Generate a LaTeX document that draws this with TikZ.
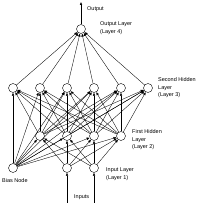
\documentclass[tikz,border=0pt]{standalone}
\usepackage{fontspec}
\setmainfont{Liberation Sans}
\usetikzlibrary{arrows.meta,positioning}

\begin{document}
\begin{tikzpicture}[x=1pt,y=-1pt,
neuron/.style={draw,circle,fill=white,inner sep=0pt,minimum size=9pt,line width=0.4pt},
lbl/.style={align=left,anchor=west,font=\fontsize{5.5}{7.5}\selectfont,inner sep=0pt},
arr/.style={-{Latex[length=3pt,width=2.6pt]},line width=0.35pt}
]
\useasboundingbox (0,0) rectangle (201,203);
% layers
\node[neuron] (out) at (81,29) {};
\foreach \i in {1,...,6}
\node[neuron] (h3\i) at ({13+27*(\i-1)},88) {};
\foreach \i in {1,...,4}
\node[neuron] (h2\i) at ({40+27*(\i-1)},136) {};
\node[neuron] (bias) at (13,168) {};
\node[neuron] (in1) at (67,168) {};
\node[neuron] (in2) at (94,168) {};
\coordinate (top) at (81,2);
\coordinate (x1) at (67,203);
\coordinate (x2) at (94,203);
% connections
\foreach \i in {1,...,6}
\draw[arr] (h3\i) -- (out);
\foreach \i in {1,...,4}
\foreach \j in {1,...,6}
\draw[arr] (h2\i) -- (h3\j);
\foreach \j in {1,...,6}
\draw[arr] (bias) -- (h3\j);
\foreach \i in {1,...,4}
{\draw[arr] (bias) -- (h2\i);
\draw[arr] (in1) -- (h2\i);
\draw[arr] (in2) -- (h2\i);}
\draw[arr] (out) -- (top);
\draw[arr] (x1) -- (in1);
\draw[arr] (x2) -- (in2);
% labels
\node[lbl] (tout) at (87,9) {Output};
\node[lbl] (tl4) at (100,28) {Output Layer\\(Layer 4)};
\node[lbl] (tl3) at (158,88) {Second Hidden\\Layer\\(Layer 3)};
\node[lbl] (tl2) at (132,140) {First Hidden\\Layer\\(Layer 2)};
\node[lbl] (tl1) at (106,174) {Input Layer\\(Layer 1)};
\node[lbl] (tbias) at (2,181) {Bias Node};
\node[lbl] (tin) at (74,197) {Inputs};
\end{tikzpicture}
\end{document}
